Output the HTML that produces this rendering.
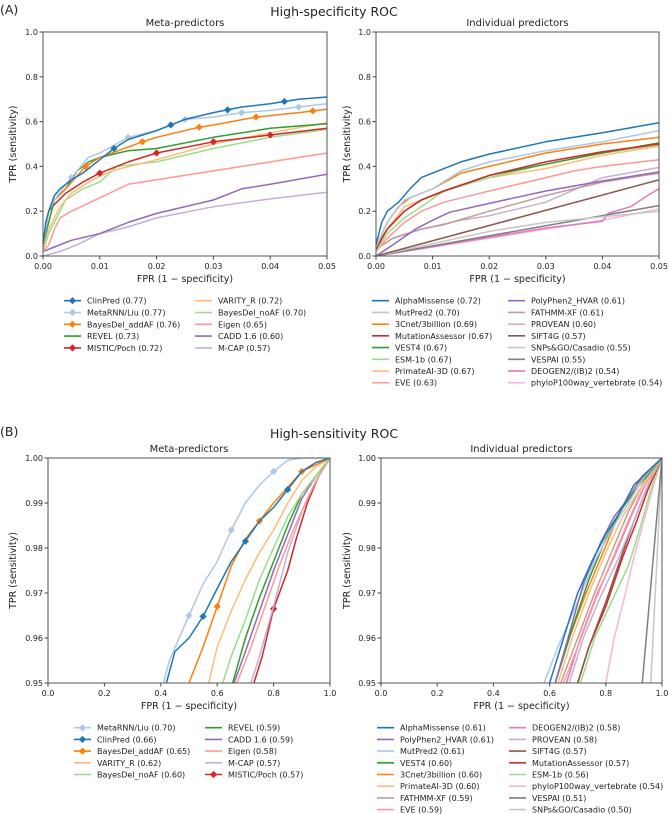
<!DOCTYPE html>
<html><head><meta charset="utf-8"><style>
body{margin:0;background:#fff}
svg{display:block;font-family:"DejaVu Sans","Liberation Sans",sans-serif}
</style></head><body>
<svg id="fig" width="668" height="814" viewBox="0 0 668 814">
<text x="0" y="14" font-size="12.5" fill="#222">(A)</text>
<text x="334" y="16" font-size="12.5" text-anchor="middle" fill="#222">High-specificity ROC</text>
<text x="0" y="436" font-size="12.5" fill="#222">(B)</text>
<text x="334" y="438" font-size="12.5" text-anchor="middle" fill="#222">High-sensitivity ROC</text>
</svg>
<script>
// ---- Data: top-left (meta, high specificity)
const tlNames=["ClinPred (0.77)","MetaRNN/Liu (0.77)","BayesDel_addAF (0.76)","REVEL (0.73)","MISTIC/Poch (0.72)","VARITY_R (0.72)","BayesDel_noAF (0.70)","Eigen (0.65)","CADD 1.6 (0.60)","M-CAP (0.57)"];
const tlColors=["#1f77b4","#aec7e8","#ff7f0e","#2ca02c","#d62728","#ffbb78","#98df8a","#ff9896","#9467bd","#c5b0d5"];
const tlClinPred=[[0,0.05],[0.0005,0.15],[0.001,0.2],[0.002,0.27],[0.003,0.3],[0.005,0.34],[0.007,0.37],[0.01,0.43],[0.0125,0.48],[0.015,0.52],[0.02,0.56],[0.025,0.61],[0.03,0.64],[0.035,0.665],[0.04,0.68],[0.045,0.70],[0.05,0.71]];
const tlMetaRNN=[[0,0.05],[0.001,0.2],[0.002,0.25],[0.004,0.32],[0.006,0.38],[0.008,0.44],[0.01,0.46],[0.015,0.53],[0.02,0.56],[0.025,0.61],[0.03,0.62],[0.035,0.64],[0.04,0.65],[0.045,0.665],[0.05,0.68]];
const tlBayesAdd=[[0,0.05],[0.001,0.2],[0.002,0.25],[0.004,0.3],[0.0075,0.4],[0.01,0.44],[0.0175,0.51],[0.02,0.53],[0.0275,0.575],[0.03,0.585],[0.0375,0.62],[0.045,0.64],[0.05,0.655]];
const tlREVEL=[[0,0.05],[0.001,0.15],[0.002,0.25],[0.004,0.3],[0.006,0.38],[0.008,0.42],[0.01,0.44],[0.015,0.47],[0.02,0.48],[0.03,0.53],[0.04,0.57],[0.05,0.59]];
const tlMISTIC=[[0,0.05],[0.001,0.2],[0.002,0.23],[0.004,0.28],[0.007,0.33],[0.01,0.37],[0.015,0.42],[0.02,0.46],[0.03,0.51],[0.04,0.54],[0.05,0.57]];
const tlVARITY=[[0,0.03],[0.001,0.12],[0.003,0.22],[0.005,0.28],[0.008,0.33],[0.012,0.38],[0.02,0.43],[0.03,0.5],[0.04,0.55],[0.05,0.595]];
const tlBayesNo=[[0,0.02],[0.001,0.1],[0.002,0.15],[0.004,0.25],[0.007,0.3],[0.01,0.33],[0.013,0.4],[0.02,0.42],[0.03,0.48],[0.04,0.53],[0.05,0.565]];
const tlEigen=[[0,0.02],[0.001,0.05],[0.002,0.12],[0.003,0.17],[0.005,0.2],[0.01,0.26],[0.015,0.32],[0.02,0.34],[0.03,0.38],[0.04,0.42],[0.05,0.46]];
const tlCADD=[[0,0.02],[0.002,0.04],[0.005,0.07],[0.01,0.1],[0.015,0.15],[0.02,0.19],[0.03,0.25],[0.035,0.3],[0.04,0.32],[0.05,0.365]];
const tlMCAP=[[0,0],[0.003,0.02],[0.006,0.05],[0.01,0.1],[0.015,0.13],[0.02,0.17],[0.03,0.22],[0.04,0.255],[0.05,0.285]];
const tlMarkers=[[0.0125,0.0225,0.0325,0.0425],[0.005,0.015,0.025,0.035,0.045],[0.0075,0.0175,0.0275,0.0375,0.0475],[],[0.01,0.02,0.03,0.04],[],[],[],[],[]];
// ---- top-right (individual, high specificity)
const trNames=["AlphaMissense (0.72)","MutPred2 (0.70)","3Cnet/3billion (0.69)","MutationAssessor (0.67)","VEST4 (0.67)","ESM-1b (0.67)","PrimateAI-3D (0.67)","EVE (0.63)","PolyPhen2_HVAR (0.61)","FATHMM-XF (0.61)","PROVEAN (0.60)","SIFT4G (0.57)","SNPs&GO/Casadio (0.55)","VESPAI (0.55)","DEOGEN2/(IB)2 (0.54)","phyloP100way_vertebrate (0.54)"];
const trColors=["#1f77b4","#aec7e8","#ff7f0e","#d62728","#2ca02c","#98df8a","#ffbb78","#ff9896","#9467bd","#c49c94","#c5b0d5","#8c564b","#c7c7c7","#7f7f7f","#e377c2","#f7b6d2"];
const trAlpha=[[0,0.05],[0.001,0.15],[0.002,0.2],[0.004,0.24],[0.006,0.3],[0.008,0.35],[0.01,0.37],[0.015,0.42],[0.02,0.455],[0.03,0.51],[0.04,0.55],[0.05,0.595]];
const trMutPred=[[0,0.04],[0.002,0.15],[0.005,0.25],[0.01,0.3],[0.015,0.38],[0.02,0.42],[0.03,0.47],[0.04,0.51],[0.05,0.56]];
const tr3Cnet=[[0,0.04],[0.002,0.15],[0.004,0.22],[0.006,0.26],[0.01,0.3],[0.015,0.37],[0.02,0.4],[0.03,0.46],[0.04,0.5],[0.05,0.53]];
const trMutAss=[[0,0.03],[0.002,0.12],[0.005,0.2],[0.008,0.25],[0.012,0.29],[0.02,0.36],[0.03,0.42],[0.04,0.465],[0.05,0.5]];
const trVEST=[[0,0.04],[0.002,0.12],[0.005,0.2],[0.008,0.25],[0.012,0.29],[0.02,0.36],[0.03,0.41],[0.04,0.46],[0.05,0.505]];
const trESM=[[0,0.02],[0.002,0.1],[0.005,0.17],[0.008,0.22],[0.012,0.29],[0.02,0.35],[0.03,0.41],[0.04,0.46],[0.05,0.495]];
const trPrimate=[[0,0.04],[0.002,0.12],[0.005,0.22],[0.008,0.25],[0.012,0.29],[0.02,0.35],[0.03,0.39],[0.04,0.45],[0.05,0.49]];
const trEVE=[[0,0.02],[0.002,0.08],[0.005,0.15],[0.008,0.2],[0.012,0.24],[0.02,0.29],[0.03,0.35],[0.035,0.38],[0.04,0.4],[0.05,0.43]];
const trPoly=[[0,0],[0.003,0.05],[0.007,0.12],[0.01,0.16],[0.013,0.195],[0.02,0.235],[0.03,0.29],[0.04,0.335],[0.05,0.375]];
const trFATHMM=[[0,0.03],[0.003,0.08],[0.008,0.12],[0.012,0.14],[0.02,0.2],[0.03,0.27],[0.04,0.33],[0.05,0.37]];
const trPROVEAN=[[0,0.03],[0.003,0.08],[0.008,0.12],[0.015,0.16],[0.02,0.18],[0.03,0.24],[0.04,0.35],[0.05,0.395]];
const trSIFT=[[0,0],[0.05,0.34]];
const trSNPs=[[0,0],[0.02,0.11],[0.03,0.15],[0.05,0.2]];
const trVESPAI=[[0,0],[0.05,0.225]];
const trDEOGEN=[[0,0],[0.03,0.125],[0.04,0.155],[0.041,0.19],[0.045,0.22],[0.048,0.27],[0.05,0.3]];
const trPhyloP=[[0,0],[0.03,0.12],[0.04,0.16],[0.05,0.21]];
// ---- bottom-left (meta, high sensitivity)
const blNames=["MetaRNN/Liu (0.70)","ClinPred (0.66)","BayesDel_addAF (0.65)","VARITY_R (0.62)","BayesDel_noAF (0.60)","REVEL (0.59)","CADD 1.6 (0.59)","Eigen (0.58)","M-CAP (0.57)","MISTIC/Poch (0.57)"];
const blColors=["#aec7e8","#1f77b4","#ff7f0e","#ffbb78","#98df8a","#2ca02c","#9467bd","#ff9896","#c5b0d5","#d62728"];
const blMetaRNN=[[0.41,0.95],[0.43,0.955],[0.5,0.965],[0.55,0.972],[0.6,0.977],[0.65,0.984],[0.7,0.99],[0.75,0.994],[0.8,0.997],[0.85,0.9995],[0.9,1],[1,1]];
const blClinPred=[[0.42,0.95],[0.45,0.957],[0.5,0.96],[0.55,0.9648],[0.6,0.971],[0.65,0.977],[0.7,0.9815],[0.75,0.986],[0.8,0.989],[0.85,0.993],[0.9,0.997],[0.95,0.999],[1,1]];
const blBayesAdd=[[0.5,0.95],[0.55,0.958],[0.6,0.967],[0.65,0.976],[0.7,0.982],[0.75,0.986],[0.8,0.99],[0.85,0.9935],[0.9,0.997],[1,1]];
const blVARITY=[[0.57,0.95],[0.6,0.958],[0.65,0.966],[0.7,0.973],[0.75,0.979],[0.8,0.984],[0.85,0.99],[0.9,0.995],[0.95,0.998],[1,1]];
const blBayesNo=[[0.62,0.95],[0.65,0.956],[0.7,0.964],[0.75,0.973],[0.8,0.98],[0.85,0.987],[0.9,0.992],[0.95,0.996],[1,1]];
const blREVEL=[[0.655,0.95],[0.7,0.96],[0.75,0.969],[0.8,0.977],[0.85,0.985],[0.9,0.992],[0.95,0.996],[1,1]];
const blCADD=[[0.66,0.95],[0.7,0.957],[0.75,0.966],[0.8,0.975],[0.85,0.983],[0.9,0.991],[0.95,0.996],[1,1]];
const blEigen=[[0.67,0.95],[0.72,0.958],[0.77,0.967],[0.82,0.976],[0.87,0.984],[0.92,0.991],[0.96,0.996],[1,1]];
const blMCAP=[[0.72,0.95],[0.75,0.956],[0.8,0.967],[0.85,0.979],[0.9,0.988],[0.95,0.995],[1,1]];
const blMISTIC=[[0.73,0.95],[0.76,0.956],[0.8,0.9665],[0.85,0.975],[0.88,0.982],[0.92,0.99],[0.96,0.996],[1,1]];
const blMarkers=[[0.5,0.65,0.8],[0.55,0.7,0.85],[0.6,0.75,0.9],[],[],[],[],[],[],[0.8]];
// ---- bottom-right (individual, high sensitivity)
const brNames=["AlphaMissense (0.61)","PolyPhen2_HVAR (0.61)","MutPred2 (0.61)","VEST4 (0.60)","3Cnet/3billion (0.60)","PrimateAI-3D (0.60)","FATHMM-XF (0.59)","EVE (0.59)","DEOGEN2/(IB)2 (0.58)","PROVEAN (0.58)","SIFT4G (0.57)","MutationAssessor (0.57)","ESM-1b (0.56)","phyloP100way_vertebrate (0.54)","VESPAI (0.51)","SNPs&GO/Casadio (0.50)"];
const brColors=["#1f77b4","#9467bd","#aec7e8","#2ca02c","#ff7f0e","#ffbb78","#c49c94","#ff9896","#e377c2","#c5b0d5","#8c564b","#d62728","#98df8a","#f7b6d2","#7f7f7f","#c7c7c7"];
const brAlpha=[[0.6,0.95],[0.65,0.96],[0.7,0.97],[0.75,0.977],[0.8,0.983],[0.85,0.988],[0.9,0.994],[0.95,0.997],[1,1]];
const brPoly=[[0.62,0.95],[0.67,0.961],[0.72,0.972],[0.78,0.981],[0.83,0.987],[0.88,0.991],[0.93,0.996],[1,1]];
const brMutPred=[[0.58,0.95],[0.63,0.958],[0.7,0.968],[0.76,0.977],[0.82,0.984],[0.88,0.99],[0.94,0.996],[1,1]];
const brVEST=[[0.62,0.95],[0.68,0.962],[0.74,0.973],[0.8,0.982],[0.86,0.989],[0.92,0.994],[1,1]];
const br3Cnet=[[0.62,0.95],[0.67,0.96],[0.73,0.97],[0.79,0.979],[0.85,0.988],[0.91,0.994],[1,1]];
const brPrimate=[[0.63,0.95],[0.68,0.96],[0.74,0.97],[0.8,0.979],[0.86,0.987],[0.92,0.993],[1,1]];
const brFATHMM=[[0.64,0.95],[0.7,0.96],[0.76,0.97],[0.82,0.979],[0.88,0.988],[0.93,0.994],[1,1]];
const brEVE=[[0.65,0.95],[0.7,0.958],[0.76,0.968],[0.82,0.977],[0.88,0.986],[0.93,0.993],[1,1]];
const brDEOGEN=[[0.66,0.95],[0.71,0.96],[0.77,0.97],[0.83,0.978],[0.89,0.987],[0.94,0.994],[1,1]];
const brPROVEAN=[[0.67,0.95],[0.72,0.96],[0.78,0.969],[0.84,0.977],[0.9,0.986],[0.95,0.994],[1,1]];
const brSIFT=[[0.7,0.95],[0.74,0.958],[0.8,0.968],[0.86,0.979],[0.9,0.986],[0.95,0.994],[1,1]];
const brMutAss=[[0.7,0.95],[0.74,0.958],[0.8,0.967],[0.86,0.978],[0.91,0.986],[0.95,0.993],[1,1]];
const brESM=[[0.71,0.95],[0.76,0.96],[0.82,0.968],[0.88,0.976],[0.92,0.984],[0.96,0.993],[1,1]];
const brPhyloP=[[0.8,0.95],[0.83,0.96],[0.87,0.97],[0.9,0.978],[0.94,0.987],[0.97,0.994],[1,1]];
const brVESPAI=[[0.93,0.95],[1,1]];
const brSNPs=[[0.96,0.95],[1,1]];
// ---- ticks
const specXTicks=["0.00","0.01","0.02","0.03","0.04","0.05"];
const specYTicks=["0.0","0.2","0.4","0.6","0.8","1.0"];
const sensXTicks=["0.0","0.2","0.4","0.6","0.8","1.0"];
const sensYTicks=["0.95","0.96","0.97","0.98","0.99","1.00"];

const NS="http://www.w3.org/2000/svg";
const svg=document.getElementById('fig');
function mk(tag,attrs,parent){const e=document.createElementNS(NS,tag);for(const k in attrs)e.setAttribute(k,attrs[k]);(parent||svg).appendChild(e);return e;}

function panel(o){
  const g=mk('g',{});
  
  
  const sx=v=>o.x0+(v-o.xmin)/(o.xmax-o.xmin)*(o.x1-o.x0);
  const sy=v=>o.y1-(v-o.ymin)/(o.ymax-o.ymin)*(o.y1-o.y0);
  const cp='clip-'+o.id;
  const d=mk('clipPath',{id:cp},g);mk('rect',{x:o.x0,y:o.y0,width:o.x1-o.x0,height:o.y1-o.y0},d);
  const lg=mk('g',{'clip-path':'url(#'+cp+')'},g);
  for(let i=o.series.length-1;i>=0;i--){
    const pts=o.series[i];
    const p=mk('polyline',{points:pts.map(q=>sx(q[0]).toFixed(1)+','+sy(q[1]).toFixed(1)).join(' '),fill:'none',stroke:o.colors[i],'stroke-width':1.5,'stroke-linejoin':'round'},lg);
    
    
    if(o.markers&&o.markers[i]){
      o.markers[i].forEach(mx=>{
        let my=pts[pts.length-1][1];
        for(let k=1;k<pts.length;k++){if(pts[k][0]>=mx){const a=pts[k-1],b=pts[k];my=a[1]+(b[1]-a[1])*(mx-a[0])/((b[0]-a[0])||1);break;}}
        const cx=sx(mx),cy=sy(my),r=3.6;
        const m=mk('polygon',{points:`${cx},${cy-r} ${cx+r},${cy} ${cx},${cy+r} ${cx-r},${cy}`,fill:o.colors[i]},lg);
        
        
      });
    }
  }
  const fr=mk('rect',{x:o.x0,y:o.y0,width:o.x1-o.x0,height:o.y1-o.y0,fill:'none',stroke:'#555','stroke-width':1},g);
  
  
  o.xt.forEach((t,i)=>{const x=o.x0+i/(o.xt.length-1)*(o.x1-o.x0);
    mk('line',{x1:x,x2:x,y1:o.y1,y2:o.y1+3.5,stroke:'#444'},g);
    const tx=mk('text',{x:x,y:o.y1+13,'font-size':8,'text-anchor':'middle',fill:'#222'},g);tx.textContent=t;
    
    });
  o.yt.forEach((t,i)=>{const y=o.y1-i/(o.yt.length-1)*(o.y1-o.y0);
    mk('line',{x1:o.x0-3.5,x2:o.x0,y1:y,y2:y,stroke:'#444'},g);
    const tx=mk('text',{x:o.x0-5,y:y+3,'font-size':8,'text-anchor':'end',fill:'#222'},g);tx.textContent=t;
    
    });
  const xl=mk('text',{x:(o.x0+o.x1)/2,y:o.y1+26,'font-size':9.5,'text-anchor':'middle',fill:'#222'},g);xl.textContent='FPR (1 \u2212 specificity)';
  
  
  const yl=mk('text',{x:0,y:0,'font-size':9.5,'text-anchor':'middle',fill:'#222',transform:`translate(${o.ylx},${(o.y0+o.y1)/2}) rotate(-90)`},g);yl.textContent='TPR (sensitivity)';
  
  
  const st=mk('text',{x:(o.x0+o.x1)/2,y:o.y0-6,'font-size':10,'text-anchor':'middle',fill:'#222'},g);st.textContent=o.title;
  
  
  const half=Math.ceil(o.names.length/2);
  o.names.forEach((n,i)=>{
    const col=i<half?0:1,row=i<half?i:i-half;
    const lx=o.leg.cx[col],ly=o.leg.y+row*o.leg.dy;
    const e=mk('g',{},g);
    
    
    mk('line',{x1:lx,x2:lx+17,y1:ly,y2:ly,stroke:o.colors[i],'stroke-width':1.6},e);
    if(o.markers&&o.markers[i]&&o.markers[i].length){const cx=lx+8.5,r=3.6;mk('polygon',{points:`${cx},${ly-r} ${cx+r},${ly} ${cx},${ly+r} ${cx-r},${ly}`,fill:o.colors[i]},e);}
    const t=mk('text',{x:lx+23,y:ly+3,'font-size':8,fill:'#222'},e);t.textContent=n;
  });
}
panel({id:'meta-high-specificity',x0:43,x1:327,y0:32,y1:256,xmin:0,xmax:0.05,ymin:0,ymax:1,xt:specXTicks,yt:specYTicks,ylx:16,title:'Meta-predictors',
  names:tlNames,colors:tlColors,series:[tlClinPred,tlMetaRNN,tlBayesAdd,tlREVEL,tlMISTIC,tlVARITY,tlBayesNo,tlEigen,tlCADD,tlMCAP],markers:tlMarkers,
  leg:{cx:[64,195],y:300.7,dy:11.8}});
panel({id:'individual-high-specificity',x0:376,x1:659,y0:32,y1:256,xmin:0,xmax:0.05,ymin:0,ymax:1,xt:specXTicks,yt:specYTicks,ylx:350,title:'Individual predictors',
  names:trNames,colors:trColors,series:[trAlpha,trMutPred,tr3Cnet,trMutAss,trVEST,trESM,trPrimate,trEVE,trPoly,trFATHMM,trPROVEAN,trSIFT,trSNPs,trVESPAI,trDEOGEN,trPhyloP],markers:null,
  leg:{cx:[372,508],y:300.7,dy:11.72}});
panel({id:'meta-high-sensitivity',x0:48,x1:330,y0:458,y1:683,xmin:0,xmax:1,ymin:0.95,ymax:1,xt:sensXTicks,yt:sensYTicks,ylx:16,title:'Meta-predictors',
  names:blNames,colors:blColors,series:[blMetaRNN,blClinPred,blBayesAdd,blVARITY,blBayesNo,blREVEL,blCADD,blEigen,blMCAP,blMISTIC],markers:blMarkers,
  leg:{cx:[74,205],y:727.7,dy:11.7}});
panel({id:'individual-high-sensitivity',x0:381,x1:662,y0:458,y1:683,xmin:0,xmax:1,ymin:0.95,ymax:1,xt:sensXTicks,yt:sensYTicks,ylx:350,title:'Individual predictors',
  names:brNames,colors:brColors,series:[brAlpha,brPoly,brMutPred,brVEST,br3Cnet,brPrimate,brFATHMM,brEVE,brDEOGEN,brPROVEAN,brSIFT,brMutAss,brESM,brPhyloP,brVESPAI,brSNPs],markers:null,
  leg:{cx:[377,509],y:727.7,dy:11.7}});
</script>
</body></html>
